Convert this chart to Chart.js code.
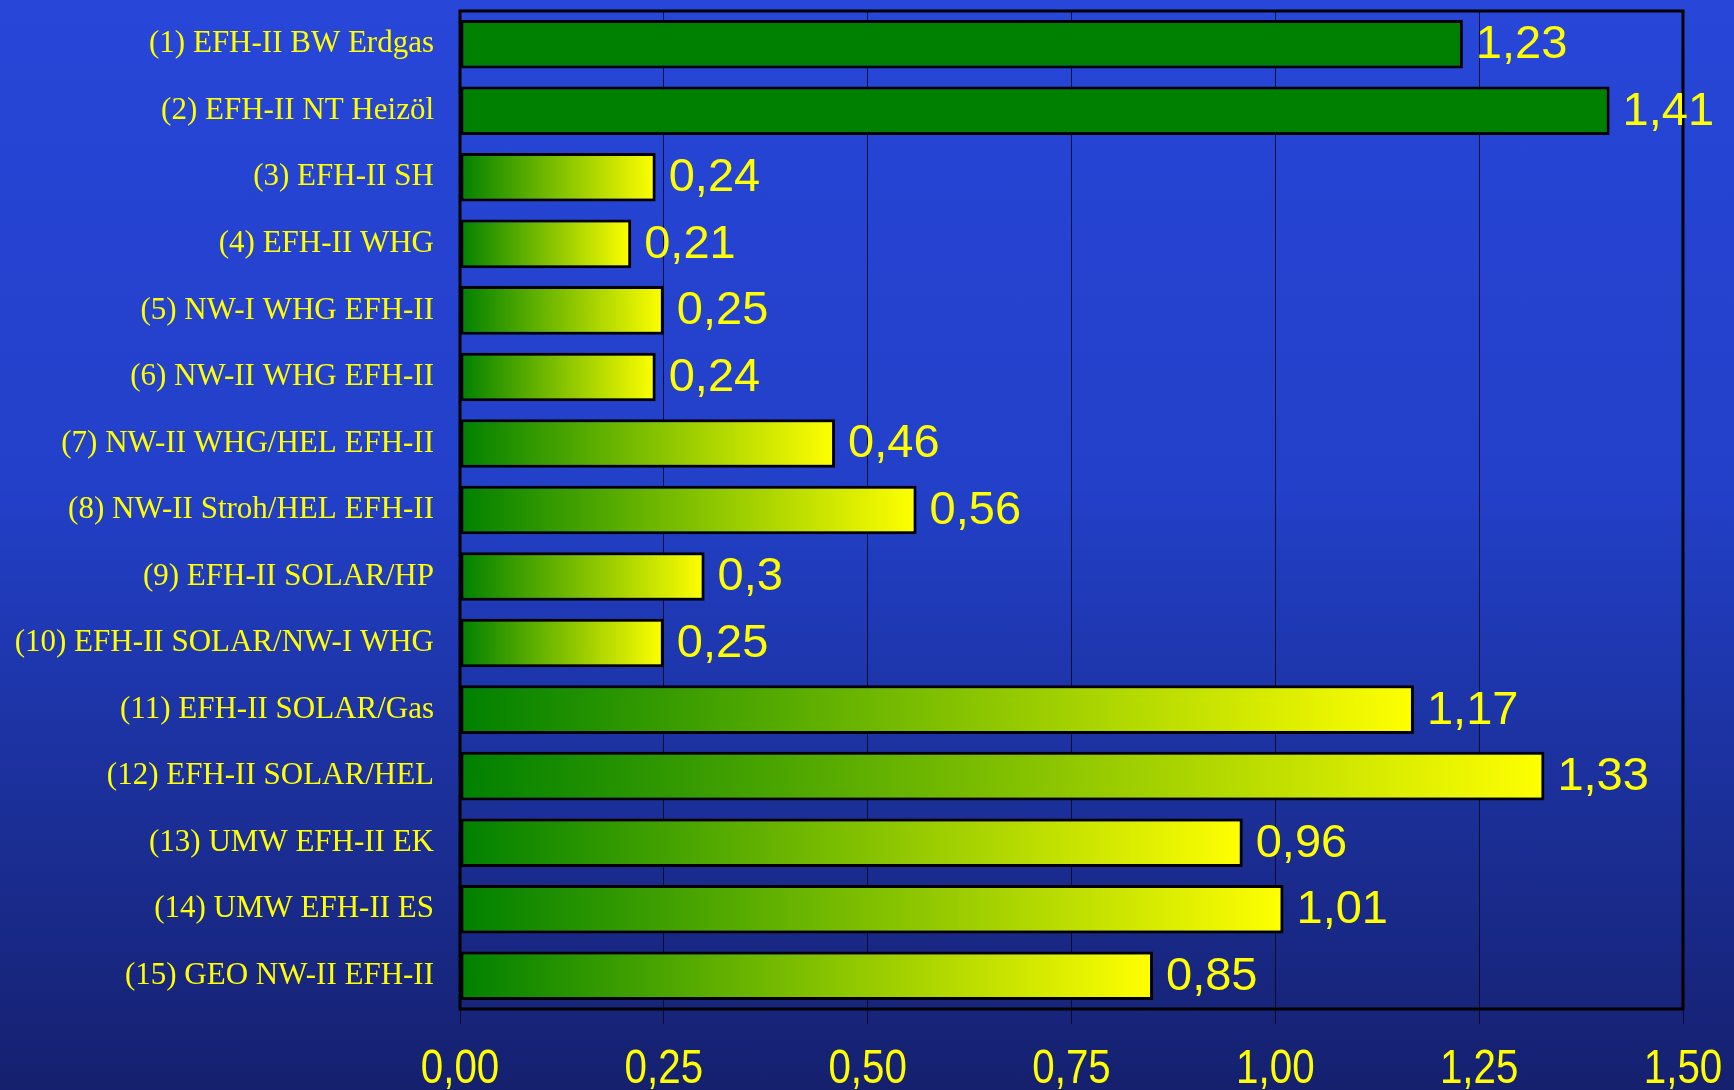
<!DOCTYPE html>
<html>
<head>
<meta charset="utf-8">
<script src="https://cdn.jsdelivr.net/npm/chart.js@4/dist/chart.umd.min.js"></script>
<style>
    html, body { margin: 0; padding: 0; }
    body { width: 1734px; height: 1090px; background: linear-gradient(to bottom, #2846d8 0%, #2240c8 45%, #15206e 100%); }
    #chart_box { width: 1734px; height: 1090px; position: relative; }
</style>
</head>
<body>
<div id="chart_box"><canvas id="bar_canvas"></canvas></div>
<script>
const categories = [
    "(1) EFH-II BW Erdgas",
    "(2) EFH-II NT Heizöl",
    "(3) EFH-II SH",
    "(4) EFH-II WHG",
    "(5) NW-I WHG EFH-II",
    "(6) NW-II WHG EFH-II",
    "(7) NW-II WHG/HEL EFH-II",
    "(8) NW-II Stroh/HEL EFH-II",
    "(9) EFH-II SOLAR/HP",
    "(10) EFH-II SOLAR/NW-I WHG",
    "(11) EFH-II SOLAR/Gas",
    "(12) EFH-II SOLAR/HEL",
    "(13) UMW EFH-II EK",
    "(14) UMW EFH-II ES",
    "(15) GEO NW-II EFH-II"
];
const values = [1.23, 1.41, 0.24, 0.21, 0.25, 0.24, 0.46, 0.56, 0.3, 0.25, 1.17, 1.33, 0.96, 1.01, 0.85];
const x_ticks = [0, 0.25, 0.5, 0.75, 1.0, 1.25, 1.5];

// bars drawn in plain green, the rest get the green->yellow fade
const solid_bars = [0, 1];

document.addEventListener("DOMContentLoaded", ()=>{
    draw_chart();
});

function comma(v){
    return String(v).replace(".", ",");
}

function bar_fill(context){
    let chart = context.chart;
    let i = context.dataIndex;
    if(solid_bars.includes(i)) return "#008000";
    let x_scale = chart.scales.x;
    if(!chart.chartArea || !x_scale) return "#008000";
    let x0 = x_scale.getPixelForValue(0);
    let x1 = x_scale.getPixelForValue(values[i]);
    if(!isFinite(x0) || !isFinite(x1) || x1 <= x0) return "#008000";
    let grad = chart.ctx.createLinearGradient(x0, 0, x1, 0);
    grad.addColorStop(0, "#008000");
    grad.addColorStop(1, "#ffff00");
    return grad;
}

function no_overhang(scale){
    scale.paddingLeft = 0;
    scale.paddingRight = 0;
    scale.paddingTop = 0;
    scale.paddingBottom = 0;
}

const frame_plugin = {
    id: "frame",
    beforeDatasetsDraw(chart){
        let a = chart.chartArea;
        let ctx = chart.ctx;
        ctx.save();
        ctx.strokeStyle = "#000000";
        ctx.lineWidth = 3;
        ctx.strokeRect(a.left, a.top, a.right - a.left, a.bottom - a.top);
        ctx.restore();
    }
};

// x tick labels are narrow in the original, so they are drawn squeezed here
const x_labels = {
    id: "x_labels",
    afterDraw(chart){
        let ctx = chart.ctx;
        let x_scale = chart.scales.x;
        let y = chart.chartArea.bottom + 61;
        ctx.save();
        ctx.font = "48px 'Liberation Sans', Arial, sans-serif";
        ctx.fillStyle = "#ffff00";
        ctx.textBaseline = "middle";
        ctx.textAlign = "center";
        x_ticks.forEach((v)=>{
            let px = x_scale.getPixelForValue(v);
            ctx.save();
            ctx.translate(px, y);
            ctx.scale(0.84, 1);
            ctx.fillText(v.toFixed(2).replace(".", ","), 0, 0);
            ctx.restore();
        });
        ctx.restore();
    }
};

const value_labels = {
    id: "value_labels",
    afterDatasetsDraw(chart){
        let ctx = chart.ctx;
        let meta = chart.getDatasetMeta(0);
        ctx.save();
        ctx.font = "47px 'Liberation Sans', Arial, sans-serif";
        ctx.fillStyle = "#ffff00";
        ctx.textBaseline = "middle";
        ctx.textAlign = "left";
        meta.data.forEach((bar, i)=>{
            ctx.fillText(comma(values[i]), bar.x + 13, bar.y + 1);
        });
        ctx.restore();
    }
};

function draw_chart(){
    let canvas = document.getElementById("bar_canvas");
    new Chart(canvas, {
        type: "bar",
        data: {
            labels: categories,
            datasets: [{
                data: values,
                backgroundColor: bar_fill,
                borderColor: "#000000",
                borderWidth: 3,
                borderSkipped: false,
                barPercentage: 0.73,
                categoryPercentage: 1.0
            }]
        },
        options: {
            indexAxis: "y",
            responsive: true,
            maintainAspectRatio: false,
            animation: false,
            layout: { padding: { top: 11, right: 51, left: 0, bottom: 0 } },
            plugins: {
                legend: { display: false },
                tooltip: { enabled: false }
            },
            scales: {
                x: {
                    min: 0,
                    max: 1.5,
                    afterBuildTicks: (scale)=>{
                        scale.ticks = x_ticks.map(v => ({ value: v }));
                    },
                    afterFit: (scale)=>{ scale.height = 81; no_overhang(scale); },
                    grid: {
                        color: "rgba(5, 10, 40, 0.9)",
                        lineWidth: 1,
                        drawTicks: true,
                        tickLength: 15,
                        tickColor: "rgba(5, 10, 40, 0.9)"
                    },
                    border: { display: false },
                    ticks: {
                        display: false,
                        autoSkip: false
                    }
                },
                y: {
                    afterFit: (scale)=>{ scale.width = 460; no_overhang(scale); },
                    grid: { display: false, drawTicks: false },
                    border: { display: false },
                    ticks: {
                        color: "#ffff00",
                        padding: 26,
                        autoSkip: false,
                        font: { family: "'Liberation Serif', 'Times New Roman', serif", size: 31 }
                    }
                }
            }
        },
        plugins: [frame_plugin, value_labels, x_labels]
    });
}
</script>
</body>
</html>
